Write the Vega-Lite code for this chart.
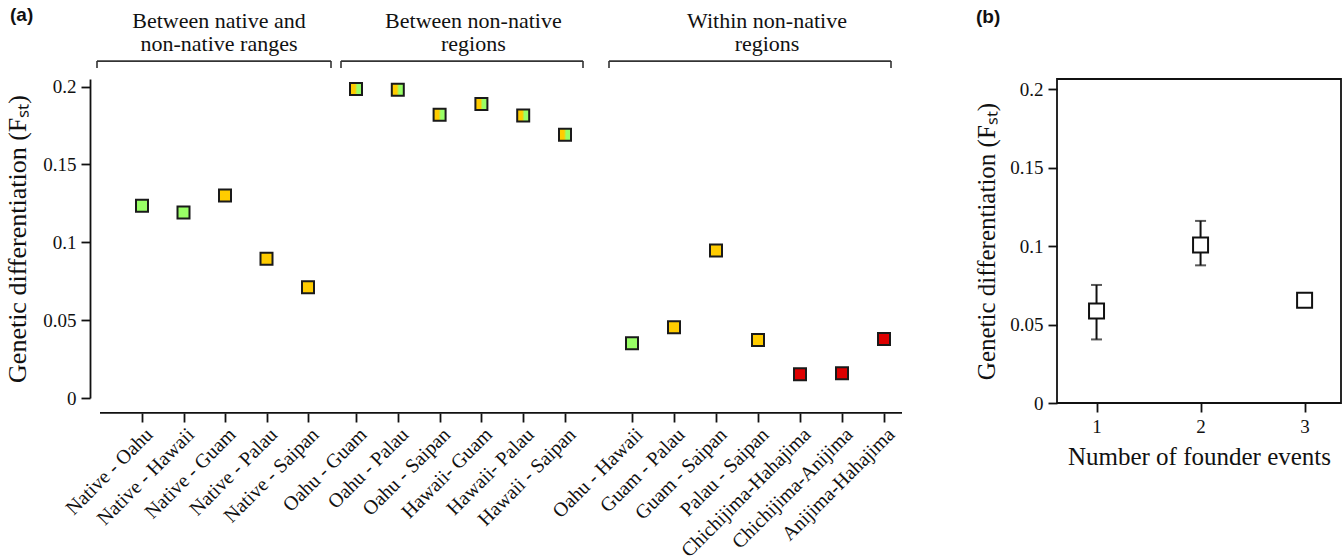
{
  "$schema": "https://vega.github.io/schema/vega-lite/v6.json",
  "padding": {"left": 4, "top": 6, "right": 0, "bottom": 0},
  "spacing": 70,
  "background": "white",
  "config": {
    "view": {"stroke": null},
    "font": "Liberation Serif",
    "axis": {
      "labelFont": "Liberation Serif",
      "titleFont": "Liberation Serif",
      "labelColor": "#111",
      "titleColor": "#111",
      "titleFontWeight": "normal",
      "grid": false,
      "domainColor": "#111",
      "tickColor": "#111",
      "domainWidth": 1.8,
      "tickWidth": 1.8,
      "tickSize": 9,
      "labelFontSize": 19,
      "titleFontSize": 25
    },
    "title": {"font": "Liberation Sans", "fontWeight": "bold", "fontSize": 19, "color": "#111"}
  },
  "datasets": {
    "pairs": [
      {"pair": "Native - Oahu", "grp": "g1", "region": "Hawaii", "fst": 0.1235},
      {"pair": "Native - Hawaii", "grp": "g1", "region": "Hawaii", "fst": 0.1192},
      {"pair": "Native - Guam", "grp": "g1", "region": "Micronesia", "fst": 0.1301},
      {"pair": "Native - Palau", "grp": "g1", "region": "Micronesia", "fst": 0.0894},
      {"pair": "Native - Saipan", "grp": "g1", "region": "Micronesia", "fst": 0.0712},
      {"pair": "Oahu - Guam", "grp": "g2", "region": "Both", "fst": 0.1985},
      {"pair": "Oahu - Palau", "grp": "g2", "region": "Both", "fst": 0.198},
      {"pair": "Oahu - Saipan", "grp": "g2", "region": "Both", "fst": 0.182},
      {"pair": "Hawaii- Guam", "grp": "g2", "region": "Both", "fst": 0.1889},
      {"pair": "Hawaii- Palau", "grp": "g2", "region": "Both", "fst": 0.1815},
      {"pair": "Hawaii - Saipan", "grp": "g2", "region": "Both", "fst": 0.1691},
      {"pair": "Oahu - Hawaii", "grp": "g3", "region": "Hawaii", "fst": 0.0352},
      {"pair": "Guam - Palau", "grp": "g3", "region": "Micronesia", "fst": 0.0455},
      {"pair": "Guam - Saipan", "grp": "g3", "region": "Micronesia", "fst": 0.0947},
      {"pair": "Palau - Saipan", "grp": "g3", "region": "Micronesia", "fst": 0.0373},
      {"pair": "Chichijima-Hahajima", "grp": "g3", "region": "Ogasawara", "fst": 0.0152},
      {"pair": "Chichijima-Anijima", "grp": "g3", "region": "Ogasawara", "fst": 0.0159},
      {"pair": "Anijima-Hahajima", "grp": "g3", "region": "Ogasawara", "fst": 0.0379}
    ],
    "brackets": [
      {"grp": "g1", "label": "Between native and\nnon-native ranges", "first": "Native - Oahu", "last": "Native - Saipan", "mid": "Native - Guam"},
      {"grp": "g2", "label": "Between non-native\nregions", "first": "Oahu - Guam", "last": "Hawaii - Saipan", "mid": "Hawaii- Guam"},
      {"grp": "g3", "label": "Within non-native\nregions", "first": "Oahu - Hawaii", "last": "Anijima-Hahajima", "mid": "Palau - Saipan"}
    ],
    "founder": [
      {"events": 1, "fst": 0.0586, "lo": 0.0405, "hi": 0.0752},
      {"events": 2, "fst": 0.1007, "lo": 0.0877, "hi": 0.116},
      {"events": 3, "fst": 0.0655, "lo": null, "hi": null}
    ]
  },
  "hconcat": [
    {
      "width": 802,
      "height": 319,
      "title": {"text": "(a)", "anchor": "start", "frame": "group", "dx": -90, "offset": -15},
      "resolve": {"scale": {"x": "independent"}, "axis": {"x": "independent"}},
      "layer": [
        {
          "data": {"values": [{}]},
          "mark": {"type": "rule", "strokeWidth": 1.8, "color": "#111"},
          "encoding": {"y": {"datum": -0.0096, "type": "quantitative", "scale": {"domain": [0, 0.2049], "nice": false, "zero": false}}}
        },
        {
          "layer": [
            {
              "data": {"name": "pairs"},
              "transform": [{"filter": "datum.grp === 'g1'"}],
              "mark": {"type": "point", "shape": "square", "filled": true, "size": 144, "stroke": "#1a1a1a", "strokeWidth": 2, "opacity": 1},
              "encoding": {
                "x": {"field": "pair", "type": "nominal", "sort": null,
                  "scale": {"type": "point", "padding": 0, "domain": ["Native - Oahu", "Native - Hawaii", "Native - Guam", "Native - Palau", "Native - Saipan"], "range": [42, 208]},
                  "axis": {"orient": "bottom", "title": null, "labelAngle": -45, "offset": 15, "domain": false, "labelOverlap": false, "labelBound": false, "labelLimit": 300, "labelPadding": 2, "labelFontSize": 20}},
                "y": {"field": "fst", "type": "quantitative", "scale": {"domain": [0, 0.2049], "nice": false, "zero": false},
                  "axis": {"values": [0, 0.05, 0.1, 0.15, 0.2], "format": "~g", "offset": 10, "labelPadding": 5, "titlePadding": 12, "titleFontSize": 26, "title": "Genetic differentiation (Fₛₜ)"}},
                "fill": {"field": "region", "type": "nominal", "scale": {"domain": ["Hawaii", "Micronesia", "Ogasawara"], "range": ["#99FF66", "#FFCC00", "#DD0000"]}, "legend": null}
              }
            },
            {
              "data": {"name": "brackets"},
              "transform": [{"filter": "datum.grp === 'g1'"}],
              "mark": {"type": "rule", "color": "#333", "strokeWidth": 1.6, "xOffset": -45, "x2Offset": 23},
              "encoding": {"x": {"field": "first", "type": "nominal"}, "x2": {"field": "last"}, "y": {"datum": 0.2164, "type": "quantitative"}}
            },
            {
              "data": {"name": "brackets"},
              "transform": [{"filter": "datum.grp === 'g1'"}],
              "mark": {"type": "rule", "color": "#333", "strokeWidth": 1.6, "xOffset": -45},
              "encoding": {"x": {"field": "first", "type": "nominal"}, "y": {"datum": 0.2164, "type": "quantitative"}, "y2": {"datum": 0.212}}
            },
            {
              "data": {"name": "brackets"},
              "transform": [{"filter": "datum.grp === 'g1'"}],
              "mark": {"type": "rule", "color": "#333", "strokeWidth": 1.6, "xOffset": 23},
              "encoding": {"x": {"field": "last", "type": "nominal"}, "y": {"datum": 0.2164, "type": "quantitative"}, "y2": {"datum": 0.212}}
            },
            {
              "data": {"name": "brackets"},
              "transform": [{"filter": "datum.grp === 'g1'"}],
              "mark": {"type": "text", "font": "Liberation Serif", "fontSize": 22, "lineBreak": "\n", "lineHeight": 23, "baseline": "alphabetic", "align": "center", "dx": -6, "color": "#111"},
              "encoding": {"x": {"field": "mid", "type": "nominal"}, "y": {"datum": 0.2376, "type": "quantitative"}, "text": {"field": "label"}}
            }
          ]
        },
        {
          "layer": [
            {
              "data": {"name": "pairs"},
              "transform": [{"filter": "datum.grp === 'g2'"}],
              "mark": {"type": "point", "shape": "square", "filled": true, "size": 144, "stroke": "#1a1a1a", "strokeWidth": 2, "opacity": 1,
                "fill": {"gradient": "linear", "x1": 0, "y1": 0, "x2": 1, "y2": 0, "stops": [{"offset": 0, "color": "#FFCC00"}, {"offset": 0.42, "color": "#FFCC00"}, {"offset": 0.6, "color": "#99FF66"}, {"offset": 1, "color": "#99FF66"}]}},
              "encoding": {
                "x": {"field": "pair", "type": "nominal", "sort": null,
                  "scale": {"type": "point", "padding": 0, "domain": ["Oahu - Guam", "Oahu - Palau", "Oahu - Saipan", "Hawaii- Guam", "Hawaii- Palau", "Hawaii - Saipan"], "range": [256, 465]},
                  "axis": {"orient": "bottom", "title": null, "labelAngle": -45, "offset": 15, "domain": false, "labelOverlap": false, "labelBound": false, "labelLimit": 300, "labelPadding": 2, "labelFontSize": 20}},
                "y": {"field": "fst", "type": "quantitative", "scale": {"domain": [0, 0.2049], "nice": false, "zero": false},
                  "axis": {"values": [0, 0.05, 0.1, 0.15, 0.2], "format": "~g", "offset": 10, "labelPadding": 5, "titlePadding": 12, "titleFontSize": 26, "title": "Genetic differentiation (Fₛₜ)"}}
              }
            },
            {
              "data": {"name": "brackets"},
              "transform": [{"filter": "datum.grp === 'g2'"}],
              "mark": {"type": "rule", "color": "#333", "strokeWidth": 1.6, "xOffset": -15, "x2Offset": 18},
              "encoding": {"x": {"field": "first", "type": "nominal"}, "x2": {"field": "last"}, "y": {"datum": 0.2164, "type": "quantitative"}}
            },
            {
              "data": {"name": "brackets"},
              "transform": [{"filter": "datum.grp === 'g2'"}],
              "mark": {"type": "rule", "color": "#333", "strokeWidth": 1.6, "xOffset": -15},
              "encoding": {"x": {"field": "first", "type": "nominal"}, "y": {"datum": 0.2164, "type": "quantitative"}, "y2": {"datum": 0.212}}
            },
            {
              "data": {"name": "brackets"},
              "transform": [{"filter": "datum.grp === 'g2'"}],
              "mark": {"type": "rule", "color": "#333", "strokeWidth": 1.6, "xOffset": 18},
              "encoding": {"x": {"field": "last", "type": "nominal"}, "y": {"datum": 0.2164, "type": "quantitative"}, "y2": {"datum": 0.212}}
            },
            {
              "data": {"name": "brackets"},
              "transform": [{"filter": "datum.grp === 'g2'"}],
              "mark": {"type": "text", "font": "Liberation Serif", "fontSize": 22, "lineBreak": "\n", "lineHeight": 23, "baseline": "alphabetic", "align": "center", "dx": -8, "color": "#111"},
              "encoding": {"x": {"field": "mid", "type": "nominal"}, "y": {"datum": 0.2376, "type": "quantitative"}, "text": {"field": "label"}}
            }
          ]
        },
        {
          "layer": [
            {
              "data": {"name": "pairs"},
              "transform": [{"filter": "datum.grp === 'g3'"}],
              "mark": {"type": "point", "shape": "square", "filled": true, "size": 144, "stroke": "#1a1a1a", "strokeWidth": 2, "opacity": 1},
              "encoding": {
                "x": {"field": "pair", "type": "nominal", "sort": null,
                  "scale": {"type": "point", "padding": 0, "domain": ["Oahu - Hawaii", "Guam - Palau", "Guam - Saipan", "Palau - Saipan", "Chichijima-Hahajima", "Chichijima-Anijima", "Anijima-Hahajima"], "range": [532, 784]},
                  "axis": {"orient": "bottom", "title": null, "labelAngle": -45, "offset": 15, "domain": false, "labelOverlap": false, "labelBound": false, "labelLimit": 300, "labelPadding": 2, "labelFontSize": 20}},
                "y": {"field": "fst", "type": "quantitative", "scale": {"domain": [0, 0.2049], "nice": false, "zero": false},
                  "axis": {"values": [0, 0.05, 0.1, 0.15, 0.2], "format": "~g", "offset": 10, "labelPadding": 5, "titlePadding": 12, "titleFontSize": 26, "title": "Genetic differentiation (Fₛₜ)"}},
                "fill": {"field": "region", "type": "nominal", "scale": {"domain": ["Hawaii", "Micronesia", "Ogasawara"], "range": ["#99FF66", "#FFCC00", "#DD0000"]}, "legend": null}
              }
            },
            {
              "data": {"name": "brackets"},
              "transform": [{"filter": "datum.grp === 'g3'"}],
              "mark": {"type": "rule", "color": "#333", "strokeWidth": 1.6, "xOffset": -23, "x2Offset": 7},
              "encoding": {"x": {"field": "first", "type": "nominal"}, "x2": {"field": "last"}, "y": {"datum": 0.2164, "type": "quantitative"}}
            },
            {
              "data": {"name": "brackets"},
              "transform": [{"filter": "datum.grp === 'g3'"}],
              "mark": {"type": "rule", "color": "#333", "strokeWidth": 1.6, "xOffset": -23},
              "encoding": {"x": {"field": "first", "type": "nominal"}, "y": {"datum": 0.2164, "type": "quantitative"}, "y2": {"datum": 0.212}}
            },
            {
              "data": {"name": "brackets"},
              "transform": [{"filter": "datum.grp === 'g3'"}],
              "mark": {"type": "rule", "color": "#333", "strokeWidth": 1.6, "xOffset": 7},
              "encoding": {"x": {"field": "last", "type": "nominal"}, "y": {"datum": 0.2164, "type": "quantitative"}, "y2": {"datum": 0.212}}
            },
            {
              "data": {"name": "brackets"},
              "transform": [{"filter": "datum.grp === 'g3'"}],
              "mark": {"type": "text", "font": "Liberation Serif", "fontSize": 22, "lineBreak": "\n", "lineHeight": 23, "baseline": "alphabetic", "align": "center", "dx": 9, "color": "#111"},
              "encoding": {"x": {"field": "mid", "type": "nominal"}, "y": {"datum": 0.2376, "type": "quantitative"}, "text": {"field": "label"}}
            }
          ]
        }
      ]
    },
    {
      "width": 284,
      "height": 324,
      "view": {"stroke": "#111", "strokeWidth": 1.8},
      "title": {"text": "(b)", "anchor": "start", "frame": "group", "dx": -81, "offset": 52},
      "data": {"name": "founder"},
      "encoding": {
        "x": {"field": "events", "type": "quantitative",
          "scale": {"domain": [0.62, 3.35], "nice": false, "zero": false},
          "axis": {"values": [1, 2, 3], "format": "d", "title": "Number of founder events", "domain": false, "titlePadding": 8, "labelPadding": 5}}
      },
      "layer": [
        {
          "transform": [{"filter": "datum.lo != null"}],
          "mark": {"type": "errorbar", "ticks": {"size": 11, "thickness": 2, "color": "#111"}, "rule": {"strokeWidth": 2, "color": "#111"}},
          "encoding": {
            "y": {"field": "lo", "type": "quantitative",
              "scale": {"domain": [0, 0.2064], "nice": false, "zero": false},
              "axis": {"values": [0, 0.05, 0.1, 0.15, 0.2], "format": "~g", "domain": false, "labelPadding": 5, "titlePadding": 10, "title": "Genetic differentiation (Fₛₜ)"}},
            "y2": {"field": "hi"}
          }
        },
        {
          "mark": {"type": "point", "shape": "square", "size": 225, "filled": true, "fill": "white", "stroke": "#111", "strokeWidth": 2, "opacity": 1},
          "encoding": {
            "y": {"field": "fst", "type": "quantitative", "title": "Genetic differentiation (Fₛₜ)"}
          }
        }
      ]
    }
  ]
}
